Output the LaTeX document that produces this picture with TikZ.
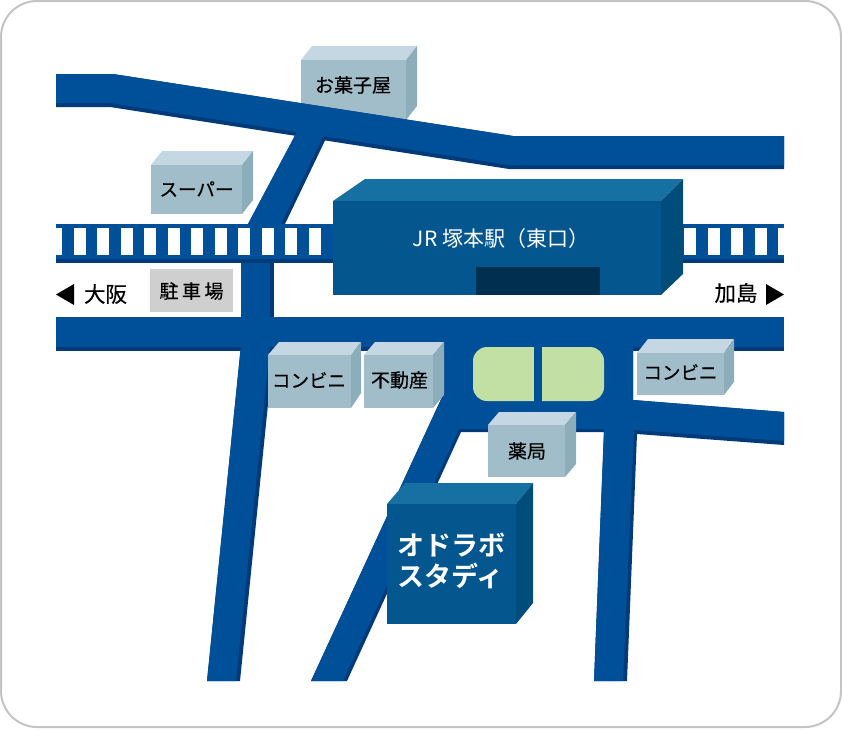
\documentclass[tikz,border=0pt]{standalone}
\usepackage{fontspec}
\setmainfont{Noto Sans CJK JP}[BoldFont={Noto Sans CJK JP Bold}]
\newfontfamily\medfont{Noto Sans CJK JP}[FakeBold=0.5]
\usepackage{xcolor}
\definecolor{roadblue}{HTML}{004F99}
\definecolor{roaddark}{HTML}{003A78}
\definecolor{stfront}{HTML}{04568E}
\definecolor{sttop}{HTML}{1670A2}
\definecolor{stside}{HTML}{004C7A}
\definecolor{stdoor}{HTML}{002F4F}
\definecolor{shfront}{HTML}{A0BDC9}
\definecolor{shtop}{HTML}{C5D7E3}
\definecolor{shside}{HTML}{8BAEBA}
\definecolor{parkgray}{HTML}{CFCFCF}
\definecolor{parkgreen}{HTML}{C3E0A4}
\definecolor{framegray}{HTML}{C4C4C4}
\tikzset{
  roadbase/.style={fill=roaddark},
  roadtop/.style={fill=roadblue},
  tie/.style={fill=white},
  shoplabel/.style={font=\medfont\fontsize{19}{23}\selectfont,text=black,inner sep=0pt},
  conlabel/.style={font=\medfont\fontsize{18.5}{22}\selectfont,text=black,inner sep=0pt},
  placelabel/.style={font=\medfont\fontsize{21.5}{25}\selectfont,text=black,inner sep=0pt},
}
\begin{document}
\begin{tikzpicture}[x=1pt,y=-1pt]
\useasboundingbox (0,0) rectangle (842,729);
\draw[framegray,line width=2pt,rounded corners=36pt] (1,1) rectangle (841,727);
% shop behind the upper road
\fill[shtop] (301,60) -- (312,46) -- (417,46) -- (406,60) -- cycle;
\fill[shside] (406,60) -- (417,46) -- (417,106) -- (406,120) -- cycle;
\fill[shfront] (301,60) rectangle (406,120);
\node[shoplabel] (sweets) at (353,85) {お菓子屋};
% roads
\fill[roadbase] (56,74) -- (113,74) -- (513,136) -- (784,136) -- (784,169) -- (509,169) -- (110,107) -- (56,107) -- cycle;
\fill[roadbase] (299,128) -- (331,128) -- (285,224) -- (248,224) -- cycle;
\fill[roadbase] (56,224) rectangle (784,263);
\fill[roadbase] (241,263) rectangle (274,317);
\fill[roadbase] (56,317) rectangle (784,351);
\fill[roadbase] (241,345) -- (274,345) -- (240,681) -- (207,681) -- cycle;
\fill[roadbase] (425,345) -- (633,345) -- (633,400) -- (784,412) -- (784,445) -- (637,434) -- (627,681) -- (594,681) -- (604,432) -- (461,432) -- (347,681) -- (311,681) -- (443,395) -- cycle;
\fill[roadtop] (56,74) -- (113,74) -- (513,136) -- (784,136) -- (784,165) -- (509,165) -- (110,103) -- (56,103) -- cycle;
\fill[roadtop] (299,128) -- (327,128) -- (281,224) -- (248,224) -- cycle;
\fill[roadtop] (56,224) rectangle (784,259);
\fill[roadtop] (241,263) rectangle (270,317);
\fill[roadtop] (56,317) rectangle (784,347);
\fill[roadtop] (241,345) -- (270,345) -- (236,681) -- (207,681) -- cycle;
\fill[roadtop] (425,345) -- (633,345) -- (633,400) -- (784,412) -- (784,441) -- (634,430) -- (623,681) -- (594,681) -- (604,429) -- (459,429) -- (343,681) -- (311,681) -- (443,395) -- cycle;
% rail ties
\fill[tie] (56,228) rectangle (62,255);
\fill[tie] (73.5,228) rectangle (85.5,255);
\fill[tie] (97,228) rectangle (109,255);
\fill[tie] (120.5,228) rectangle (132.5,255);
\fill[tie] (144,228) rectangle (156,255);
\fill[tie] (167.5,228) rectangle (179.5,255);
\fill[tie] (191,228) rectangle (203,255);
\fill[tie] (214.5,228) rectangle (226.5,255);
\fill[tie] (238,228) rectangle (250,255);
\fill[tie] (261.5,228) rectangle (273.5,255);
\fill[tie] (285,228) rectangle (297,255);
\fill[tie] (308.5,228) rectangle (320.5,255);
\fill[tie] (684,228) rectangle (696,255);
\fill[tie] (707.5,228) rectangle (719.5,255);
\fill[tie] (731,228) rectangle (743,255);
\fill[tie] (754.5,228) rectangle (766.5,255);
\fill[tie] (778,228) rectangle (784,255);
% station
\fill[sttop] (333,201) -- (365,179) -- (683,179) -- (661,201) -- cycle;
\fill[stside] (661,201) -- (683,179) -- (683,274) -- (661,295) -- cycle;
\fill[stfront] (333,201) rectangle (661,295);
\fill[stdoor] (476,267) rectangle (600,295);
\node[font=\fontsize{21}{25}\selectfont,text=white,inner sep=0pt] (station) at (501,239) {JR 塚本駅（東口）};
% square
\fill[parkgreen,rounded corners=14pt] (473,347) rectangle (604,401);
\fill[roadblue] (534,345) rectangle (542,403);
% shops
\fill[shtop] (151,165) -- (162,151) -- (253,151) -- (242,165) -- cycle;
\fill[shside] (242,165) -- (253,151) -- (253,200) -- (242,214) -- cycle;
\fill[shfront] (151,165) rectangle (242,214);
\node[conlabel] (super) at (196.5,189) {スーパー};
\fill[parkgray] (150,269) rectangle (233,312);
\node[shoplabel,text width=64pt,align=justify] (parking) at (191.5,291) {駐\hfill 車\hfill 場};
\fill[shtop] (268,355) -- (279,342) -- (361,342) -- (351,355) -- cycle;
\fill[shside] (351,355) -- (361,342) -- (361,393) -- (351,408) -- cycle;
\fill[shfront] (268,355) rectangle (351,408);
\node[conlabel] (conveni) at (309,380) {コンビニ};
\fill[shtop] (364,355) -- (375,342) -- (444,342) -- (433,355) -- cycle;
\fill[shside] (433,355) -- (444,342) -- (444,395) -- (433,408) -- cycle;
\fill[shfront] (364,355) rectangle (433,408);
\node[shoplabel] (estate) at (399.5,380) {不動産};
\fill[shtop] (637,353) -- (648,339) -- (734,339) -- (724,353) -- cycle;
\fill[shside] (724,353) -- (734,339) -- (734,382) -- (724,395) -- cycle;
\fill[shfront] (637,353) rectangle (724,395);
\node[conlabel] (conveniB) at (680.5,372) {コンビニ};
\fill[shtop] (488,425) -- (499,412) -- (576,412) -- (565,425) -- cycle;
\fill[shside] (565,425) -- (576,412) -- (576,464) -- (565,477) -- cycle;
\fill[shfront] (488,425) rectangle (565,477);
\node[shoplabel] (pharmacy) at (527,451) {薬局};
% school
\fill[sttop] (387,504) -- (405,483) -- (533,483) -- (516,504) -- cycle;
\fill[stside] (516,504) -- (533,483) -- (533,603) -- (516,624) -- cycle;
\fill[stfront] (387,504) rectangle (516,624);
\node[font=\bfseries\fontsize{27}{31}\selectfont,text=white,align=left,inner sep=0pt] (school) at (451,561) {オドラボ\\スタディ};
% directions
\fill[black] (56,294.5) -- (74,284) -- (74,305) -- cycle;
\node[placelabel] (osaka) at (105.5,294) {大阪};
\fill[black] (784,294.5) -- (766,284) -- (766,305) -- cycle;
\node[placelabel] (kashima) at (736,293) {加島};
\end{tikzpicture}
\end{document}
